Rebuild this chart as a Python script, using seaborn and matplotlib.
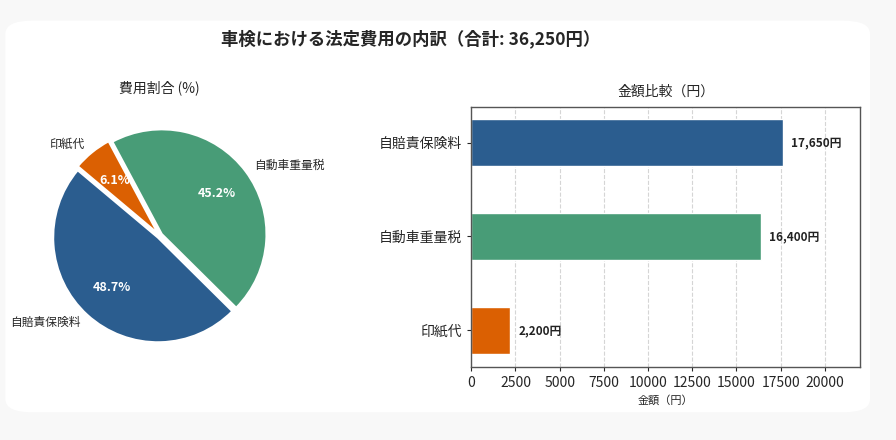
import matplotlib.pyplot as plt
import seaborn as sns
import pandas as pd
from matplotlib.patches import FancyBboxPatch

items = ['自賠責保険料', '自動車重量税', '印紙代']
amounts = [17650, 16400, 2200]
colors = ['#2b5d8f', '#489c77', '#db6002']

sns.set_style('white')
plt.rcParams['font.family'] = ['Noto Sans CJK JP', 'DejaVu Sans']

total = sum(amounts)
df = pd.DataFrame({'item': items, 'amount': amounts})

fig = plt.figure(figsize=[8.96, 4.4], dpi=100, facecolor='#f8f8f8')
card = FancyBboxPatch((0.006, 0.063), 0.965, 0.89, boxstyle='round,pad=0,rounding_size=0.03',
                      transform=fig.transFigure, facecolor='white', edgecolor='none', zorder=-10)
fig.patches.append(card)

fig.text(0.458, 0.912, '車検における法定費用の内訳（合計: {:,}円）'.format(total),
         ha='center', va='center', fontsize=12.5, fontweight='bold')

# ---------------- pie ----------------
ax1 = fig.add_axes([0.032, 0.167, 0.2924, 0.595])
ax1.patch.set_alpha(0)
wedges, texts, autotexts = ax1.pie(
    amounts, labels=items, colors=colors, startangle=140, autopct='%1.1f%%',
    explode=[0.025, 0.025, 0.025], pctdistance=0.65, labeldistance=1.1,
    wedgeprops={'edgecolor': 'white', 'linewidth': 1.5}, textprops={'fontsize': 8.5})
for t in autotexts:
    t.set_color('white')
    t.set_fontweight('bold')
    t.set_fontsize(9)
ax1.set_aspect('equal')
ax1.set_title('費用割合 (%)', fontsize=10, pad=9)

# ---------------- bars ----------------
ax2 = fig.add_axes([0.526, 0.166, 0.434, 0.591])
sns.barplot(data=df, x='amount', y='item', hue='item', palette=colors, orient='h',
            width=0.5, saturation=1, legend=False, ax=ax2)
ax2.set_xlim(0, 22000)
ax2.set_ylim(2.39, -0.38)
ax2.set_ylabel('')
ax2.set_xlabel('金額（円）', fontsize=8)
ax2.set_title('金額比較（円）', fontsize=10, pad=8)
ax2.grid(axis='x', linestyle='--', color='#d5d5d5', linewidth=0.8)
ax2.set_axisbelow(True)
ax2.tick_params(axis='y', labelsize=10, left=True, length=3)
ax2.tick_params(axis='x', labelsize=10, bottom=True, length=3)
for s in ax2.spines.values():
    s.set_color('#555555')
    s.set_linewidth(1)
for i, v in enumerate(amounts):
    ax2.text(v + 450, i, '{:,}円'.format(v), va='center', ha='left',
             fontsize=8.5, fontweight='bold', color='#222222')

plt.savefig('out.png', dpi=100, facecolor=fig.get_facecolor())
